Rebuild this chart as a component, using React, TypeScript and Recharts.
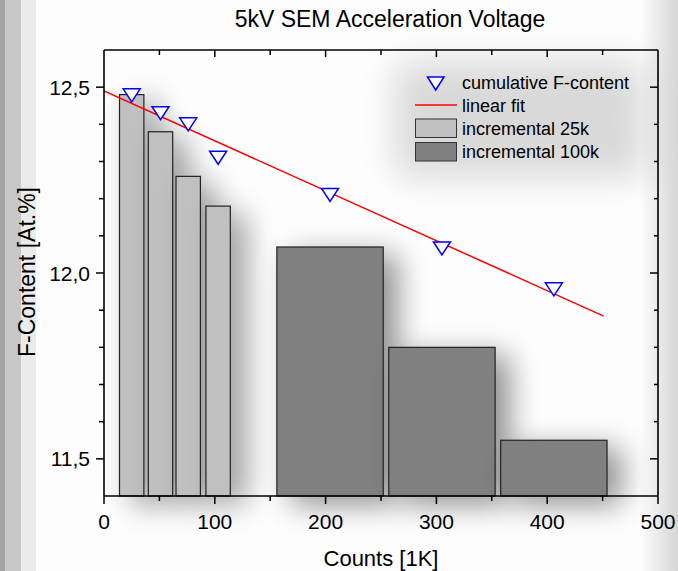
import * as React from 'react';
import { ComposedChart, XAxis, YAxis, ReferenceArea, Scatter, Line } from 'recharts';

// cumulative F-content, measured after each acquisition step
const cumCounts = [25, 51, 76, 103, 204, 305, 406];
const cumFContent = [12.478, 12.43, 12.4, 12.31, 12.21, 12.066, 11.956];

// linear fit through the cumulative values (end points)
const fitCounts = [0, 451];
const fitFContent = [12.49, 11.884];

// incremental 25k spectra: centre, width, value
const inc25Counts = [25, 51, 76, 103];
const inc25Width = [22, 22, 22, 22];
const inc25FContent = [12.48, 12.38, 12.26, 12.18];

// incremental 100k spectra
const inc100Counts = [204, 305, 406];
const inc100Width = [96, 96, 96];
const inc100FContent = [12.07, 11.8, 11.55];

const xTicks = [0, 50, 100, 150, 200, 250, 300, 350, 400, 450, 500];
const yTicks = [11.5, 11.6, 11.7, 11.8, 11.9, 12.0, 12.1, 12.2, 12.3, 12.4, 12.5];
const yBase = 11.4;

const FONT = '"Liberation Sans", Arial, sans-serif';

const cumData = cumCounts.map((x, i) => ({ x, y: cumFContent[i] }));
const fitData = fitCounts.map((x, i) => ({ x, fit: fitFContent[i] }));
const bars25 = inc25Counts.map((c, i) => ({ x1: c - inc25Width[i] / 2, x2: c + inc25Width[i] / 2, y: inc25FContent[i] }));
const bars100 = inc100Counts.map((c, i) => ({ x1: c - inc100Width[i] / 2, x2: c + inc100Width[i] / 2, y: inc100FContent[i] }));

const isMajorX = (v: number) => v % 100 === 0;
const isMajorY = (v: number) => Math.abs(v * 2 - Math.round(v * 2)) < 1e-6;

const BottomTick = (props: any) => {
  const { x, y, payload } = props;
  const major = isMajorX(payload.value);
  return (
    <g>
      <line x1={x} x2={x} y1={y} y2={y + (major ? 8 : 5)} stroke="#000" strokeWidth={1.5} />
      {major && (
        <text x={x} y={y + 33} textAnchor="middle" fontSize={21} fontFamily={FONT} fill="#000">
          {payload.value}
        </text>
      )}
    </g>
  );
};

const TopTick = (props: any) => {
  const { x, y, payload } = props;
  const major = isMajorX(payload.value);
  return <line x1={x} x2={x} y1={y} y2={y + (major ? 7 : 5)} stroke="#000" strokeWidth={1.5} />;
};

const LeftTick = (props: any) => {
  const { x, y, payload } = props;
  const major = isMajorY(payload.value);
  return (
    <g>
      <line x1={x - (major ? 8 : 5)} x2={x} y1={y} y2={y} stroke="#000" strokeWidth={1.5} />
      {major && (
        <text x={x - 14} y={y} dy="0.36em" textAnchor="end" fontSize={21} fontFamily={FONT} fill="#000">
          {payload.value.toFixed(1).replace('.', ',')}
        </text>
      )}
    </g>
  );
};

const RightTick = (props: any) => {
  const { x, y, payload } = props;
  const major = isMajorY(payload.value);
  return <line x1={x - (major ? 8 : 4)} x2={x} y1={y} y2={y} stroke="#000" strokeWidth={1.5} />;
};

const DownTriangle = (props: any) => {
  const { cx, cy } = props;
  if (cx == null || cy == null) return <g />;
  return (
    <path
      d={`M${cx - 8.5},${cy - 6.5} L${cx + 8.5},${cy - 6.5} L${cx},${cy + 6.5} Z`}
      fill="#fff"
      stroke="#0000ff"
      strokeWidth={1.5}
    />
  );
};

const NoMark = () => <g />;

const hazyRect = (fill: string) => (props: any) => {
  const { x, y, width, height } = props;
  return (
    <g>
      <rect x={x} y={y} width={width} height={height} fill="#000" filter="url(#haze)" />
      <rect x={x} y={y} width={width} height={height} fill={fill} stroke="#222" strokeWidth={1.2} />
    </g>
  );
};

const Legend = () => (
  <g fontFamily={FONT} fontSize={18} fill="#000">
    <rect x={395} y={62} width={250} height={115} fill="#000" opacity={0.14} filter="url(#soft)" />
    <path d="M427.5,77 L444,77 L435.7,90 Z" fill="#fff" stroke="#0000ff" strokeWidth={1.5} />
    <text x={462} y={83} dy="0.36em">cumulative F-content</text>
    <line x1={415} x2={457} y1={105} y2={105} stroke="#ff0000" strokeWidth={1.5} />
    <text x={462} y={106} dy="0.36em">linear fit</text>
    <rect x={415.5} y={119} width={41} height={18.5} fill="#c0c0c0" stroke="#333" strokeWidth={1} />
    <text x={462} y={129} dy="0.36em">incremental 25k</text>
    <rect x={415.5} y={142.5} width={41} height={18.5} fill="#808080" stroke="#333" strokeWidth={1} />
    <text x={462} y={152} dy="0.36em">incremental 100k</text>
  </g>
);

const axisStroke = { stroke: '#000', strokeWidth: 1.6 };

export default function App() {
  return (
    <div
      style={{
        position: 'absolute',
        left: 0,
        top: 0,
        width: 678,
        height: 571,
        overflow: 'hidden',
        background:
          'linear-gradient(to right, #a5a5a5 0px, #a5a5a5 5px, #c8c8c8 5px, #c8c8c8 21px, #ebebeb 21px, #ebebeb 36px, #fdfdfd 36px, #fdfdfd 640px, #d6d6d6 678px)',
      }}
    >
      <svg width={0} height={0} style={{ position: 'absolute' }}>
        <defs>
          <filter id="haze" filterUnits="userSpaceOnUse" x="0" y="0" width="678" height="571">
            <feGaussianBlur in="SourceAlpha" stdDeviation="15" />
            <feOffset dx="14" dy="8" />
            <feComponentTransfer>
              <feFuncA type="linear" slope="0.45" />
            </feComponentTransfer>
          </filter>
          <filter id="soft" filterUnits="userSpaceOnUse" x="0" y="0" width="678" height="571">
            <feGaussianBlur stdDeviation="18" />
          </filter>
        </defs>
      </svg>
      <div style={{ position: 'absolute', left: 0, top: 0 }}>
        <ComposedChart width={678} height={571} margin={{ top: 49, right: 19, bottom: 74, left: 103 }}>
          <XAxis
            xAxisId="b"
            dataKey="x"
            type="number"
            domain={[0, 500]}
            ticks={xTicks}
            height={1}
            tickSize={0}
            tickMargin={0}
            tickLine={false}
            tick={<BottomTick />}
            axisLine={axisStroke}
            interval={0}
            allowDataOverflow
          />
          <XAxis
            xAxisId="t"
            dataKey="x"
            orientation="top"
            type="number"
            domain={[0, 500]}
            ticks={xTicks.slice(1, -1)}
            height={1}
            tickSize={0}
            tickMargin={0}
            tickLine={false}
            tick={<TopTick />}
            axisLine={axisStroke}
            interval={0}
            allowDataOverflow
          />
          <YAxis
            yAxisId="l"
            type="number"
            domain={[11.4, 12.6]}
            ticks={yTicks}
            width={1}
            tickSize={0}
            tickMargin={0}
            tickLine={false}
            tick={<LeftTick />}
            axisLine={axisStroke}
            interval={0}
            allowDataOverflow
          />
          <YAxis
            yAxisId="r"
            orientation="right"
            type="number"
            domain={[11.4, 12.6]}
            ticks={yTicks}
            width={1}
            tickSize={0}
            tickMargin={0}
            tickLine={false}
            tick={<RightTick />}
            axisLine={axisStroke}
            interval={0}
            allowDataOverflow
          />
          {bars25.map((b, i) => (
            <ReferenceArea
              key={`a${i}`}
              xAxisId="b"
              yAxisId="l"
              x1={b.x1}
              x2={b.x2}
              y1={yBase}
              y2={b.y}
              fillOpacity={1}
              shape={hazyRect('#c0c0c0')}
            />
          ))}
          {bars100.map((b, i) => (
            <ReferenceArea
              key={`b${i}`}
              xAxisId="b"
              yAxisId="l"
              x1={b.x1}
              x2={b.x2}
              y1={yBase}
              y2={b.y}
              fillOpacity={1}
              shape={hazyRect('#808080')}
            />
          ))}
          <Line
            xAxisId="b"
            yAxisId="l"
            data={fitData}
            dataKey="fit"
            type="linear"
            stroke="#ff0000"
            strokeWidth={1.5}
            dot={false}
            activeDot={false}
            isAnimationActive={false}
          />
          {/* invisible twin so the mirrored frame axes get a domain */}
          <Scatter
            xAxisId="t"
            yAxisId="r"
            data={cumData}
            dataKey="y"
            shape={<NoMark />}
            legendType="none"
            isAnimationActive={false}
          />
          <Scatter
            xAxisId="b"
            yAxisId="l"
            data={cumData}
            dataKey="y"
            shape={<DownTriangle />}
            isAnimationActive={false}
          />
        </ComposedChart>
      </div>
      <svg width={678} height={571} style={{ position: 'absolute', left: 0, top: 0, pointerEvents: 'none' }}>
        <text x={390} y={27} textAnchor="middle" fontSize={23} fontFamily={FONT} fill="#000">
          5kV SEM Acceleration Voltage
        </text>
        <text x={381} y={566} textAnchor="middle" fontSize={22} fontFamily={FONT} fill="#000">
          Counts [1K]
        </text>
        <text
          x={0}
          y={0}
          transform="translate(35 272) rotate(-90)"
          textAnchor="middle"
          fontSize={23}
          fontFamily={FONT}
          fill="#000"
        >
          F-Content [At.%]
        </text>
        <Legend />
      </svg>
    </div>
  );
}
